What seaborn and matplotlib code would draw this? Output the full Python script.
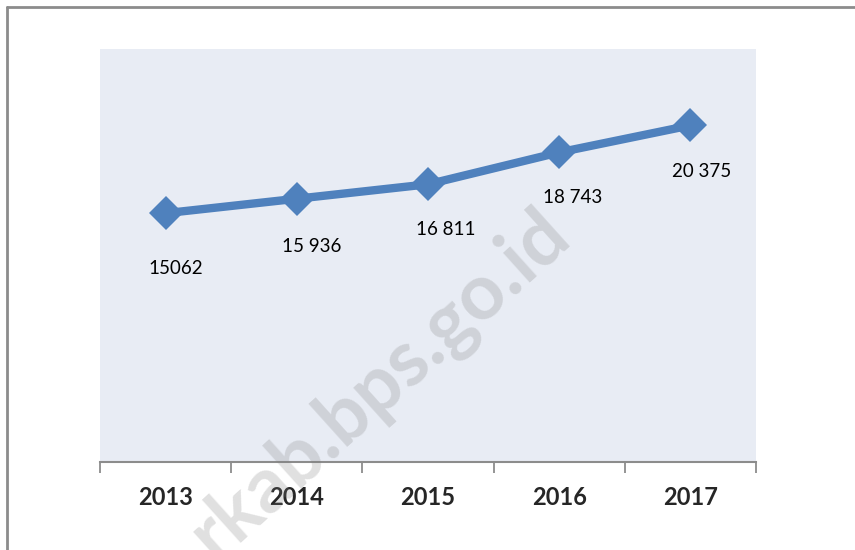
import matplotlib
matplotlib.use("Agg")
import matplotlib.pyplot as plt
from matplotlib.lines import Line2D
import seaborn as sns

years = ["2013", "2014", "2015", "2016", "2017"]
values = [15062, 15936, 16811, 18743, 20375]
value_labels = ["15062", "15 936", "16 811", "18 743", "20 375"]

sns.set_theme(style="white")
plt.rcParams["font.family"] = ["Lato", "DejaVu Sans"]

fig = plt.figure(figsize=(8.55, 5.5), dpi=100)
ax = fig.add_axes([100 / 855, 88 / 550, 656 / 855, 413 / 550])
ax.set_facecolor("#E8ECF4")

idx = list(range(len(years)))
sns.lineplot(x=idx, y=values, ax=ax, color="#4F81BD", linewidth=6,
             marker="D", markersize=17, markeredgecolor="#4F81BD",
             markeredgewidth=0, sort=False, zorder=3)

# data labels sit below each point
offsets = [(10, -55), (15, -48), (18, -45), (13, -45), (11, -46)]
for i, (v, lab) in enumerate(zip(values, value_labels)):
    ax.annotate(lab, xy=(i, v), xytext=offsets[i], textcoords="offset pixels",
                ha="center", va="center", fontsize=13.5, color="black")

ax.set_xlim(-0.5, len(years) - 0.5)
ax.set_ylim(0, 25000)
ax.set_yticks([])
ax.set_xticks([i - 0.5 for i in range(len(years) + 1)])
ax.set_xticklabels([])
ax.set_xticks(idx, minor=True)
ax.set_xticklabels(years, minor=True, fontsize=17, fontweight="bold")
ax.tick_params(axis="x", which="major", direction="out", length=8,
               width=1.3, color="#8C8C8C", bottom=True)
ax.tick_params(axis="x", which="minor", length=0, pad=17)
for s in ["top", "right", "left"]:
    ax.spines[s].set_visible(False)
ax.spines["bottom"].set_color("#8C8C8C")
ax.spines["bottom"].set_linewidth(1.5)
ax.set_xlabel("")
ax.set_ylabel("")

# outer frame (top and left edges visible)
fig.add_artist(Line2D([7 / 855, 1], [1 - 7 / 550, 1 - 7 / 550],
                      color="#8C8C8C", linewidth=2, transform=fig.transFigure))
fig.add_artist(Line2D([7 / 855, 7 / 855], [0, 1 - 7 / 550],
                      color="#8C8C8C", linewidth=2, transform=fig.transFigure))

# watermark (runs off the bottom edge, as in the source)
fig.text(380 / 855, 1 - 385 / 550, "rkab.bps.go.id", rotation=42,
         rotation_mode="anchor", ha="center", va="center", fontsize=56,
         fontweight="bold", color="#7F7F7F", alpha=0.24, zorder=5)

fig.savefig("out.png", dpi=100)
